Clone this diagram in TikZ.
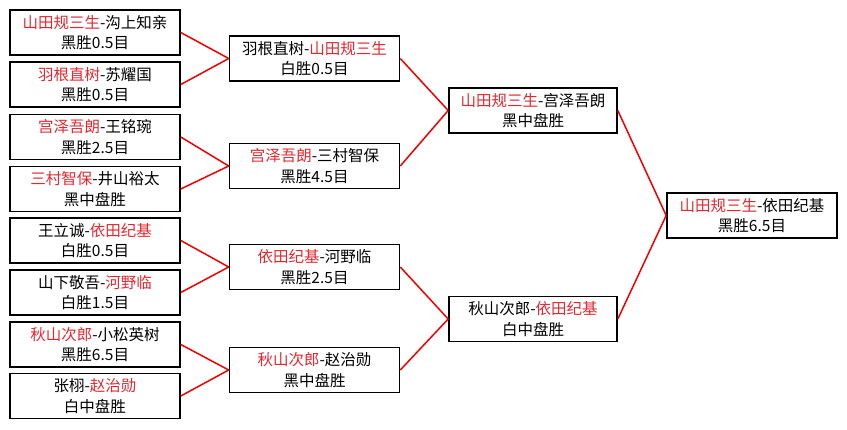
\documentclass[tikz,border=0pt]{standalone}
\usepackage{xcolor}
\usepackage{fontspec}
\usepackage{tikz}
\newfontfamily\cjk{Noto Sans CJK SC}
\definecolor{winred}{RGB}{228,40,48}
\definecolor{linkred}{RGB}{240,0,0}
\newcommand{\win}[1]{\textcolor{winred}{#1}}
\tikzset{
  game/.style={draw, line width=1.6pt, minimum width=170pt, minimum height=45pt, inner sep=0pt, align=center, font=\cjk\fontsize{15.5}{20.5}\selectfont},
  link/.style={linkred, line width=1.5pt}
}

\begin{document}
\begin{tikzpicture}[x=1pt, y=-1pt]
\fill[white] (0,0) rectangle (847,429);
\useasboundingbox (0,0) rectangle (847,429);
\node[game] (p1) at (95,32.5) {\win{山田规三生}-沟上知亲\\黑胜0.5目};
\node[game] (p2) at (95,84.5) {\win{羽根直树}-苏耀国\\黑胜0.5目};
\node[game] (p3) at (95,137) {\win{宫泽吾朗}-王铭琬\\黑胜2.5目};
\node[game] (p4) at (95,189) {\win{三村智保}-井山裕太\\黑中盘胜};
\node[game] (p5) at (95,240.5) {王立诚-\win{依田纪基}\\白胜0.5目};
\node[game] (p6) at (95,292.5) {山下敬吾-\win{河野临}\\白胜1.5目};
\node[game] (p7) at (95,344.5) {\win{秋山次郎}-小松英树\\黑胜6.5目};
\node[game] (p8) at (95,396) {张栩-\win{赵治勋}\\白中盘胜};
\node[game] (q1) at (314.5,58.5) {羽根直树-\win{山田规三生}\\白胜0.5目};
\node[game] (q2) at (314.5,166) {\win{宫泽吾朗}-三村智保\\黑胜4.5目};
\node[game] (q3) at (314.5,267) {\win{依田纪基}-河野临\\黑胜2.5目};
\node[game] (q4) at (314.5,370) {\win{秋山次郎}-赵治勋\\黑中盘胜};
\node[game, minimum width=168pt] (s1) at (533,110.5) {\win{山田规三生}-宫泽吾朗\\黑中盘胜};
\node[game, minimum width=168pt] (s2) at (533,319) {秋山次郎-\win{依田纪基}\\白中盘胜};
\node[game] (f) at (752,215.5) {\win{山田规三生}-依田纪基\\黑胜6.5目};
\draw[link] (p1.east) -- (q1.west);
\draw[link] (p2.east) -- (q1.west);
\draw[link] (p3.east) -- (q2.west);
\draw[link] (p4.east) -- (q2.west);
\draw[link] (p5.east) -- (q3.west);
\draw[link] (p6.east) -- (q3.west);
\draw[link] (p7.east) -- (q4.west);
\draw[link] (p8.east) -- (q4.west);
\draw[link] (q1.east) -- (s1.west);
\draw[link] (q2.east) -- (s1.west);
\draw[link] (q3.east) -- (s2.west);
\draw[link] (q4.east) -- (s2.west);
\draw[link] (s1.east) -- (f.west);
\draw[link] (s2.east) -- (f.west);
\end{tikzpicture}
\end{document}
